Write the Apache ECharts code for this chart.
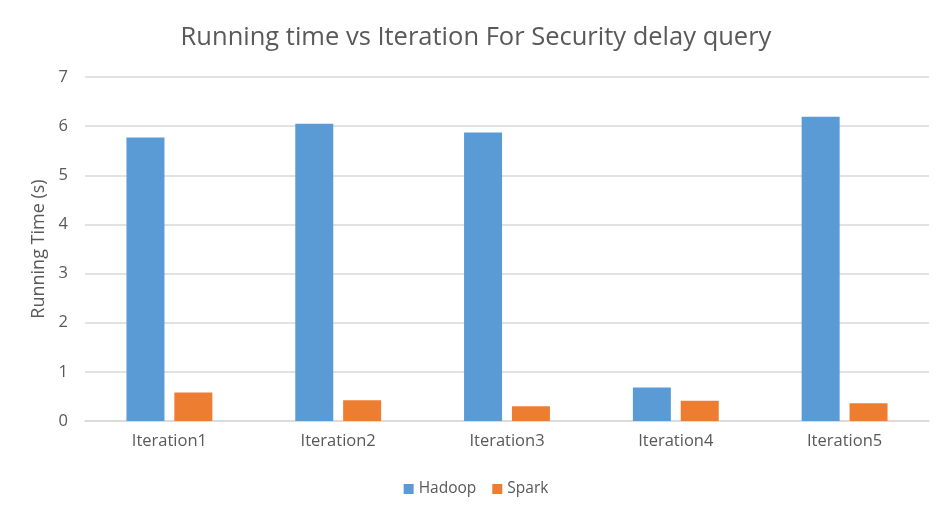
<!DOCTYPE html>
<html>
<head>
<meta charset="utf-8">
<script src="https://cdn.jsdelivr.net/npm/echarts@6/dist/echarts.min.js"></script>
<style>
  html, body { margin: 0; padding: 0; background: #fff; }
  #chart { width: 952px; height: 517px; }
</style>
</head>
<body>
<div id="chart"></div>
<script>
// data
var iterations = ["Iteration1", "Iteration2", "Iteration3", "Iteration4", "Iteration5"];
var hadoopTimes = [5.77, 6.05, 5.87, 0.68, 6.19];
var sparkTimes = [0.58, 0.42, 0.30, 0.41, 0.36];
var yTicks = [0, 1, 2, 3, 4, 5, 6, 7];

var textColor = "#595959";
var font = "Open Sans";

var chart = echarts.init(document.getElementById("chart"));
var option = {
  backgroundColor: "#fff",
  animation: false,
  title: {
    text: "Running time vs Iteration For Security delay query",
    left: "center",
    top: 20,
    textStyle: {
      color: textColor,
      fontFamily: font,
      fontWeight: "normal",
      fontSize: 25.5,
    },
  },
  legend: {
    data: ["Hadoop", "Spark"],
    bottom: 15,
    left: "center",
    icon: "rect",
    itemWidth: 10,
    itemHeight: 10,
    itemGap: 16,
    textStyle: {
      color: textColor,
      fontFamily: font,
      fontSize: 15.5,
    },
  },
  grid: {
    left: 85,
    right: 23,
    top: 77,
    bottom: 96,
  },
  xAxis: {
    type: "category",
    data: iterations,
    axisTick: { show: false },
    axisLine: { lineStyle: { color: "#D9D9D9", width: 1.5 } },
    axisLabel: {
      color: textColor,
      fontFamily: font,
      fontSize: 16.5,
      margin: 12,
    },
  },
  yAxis: {
    type: "value",
    min: yTicks[0],
    max: yTicks[yTicks.length - 1],
    interval: 1,
    name: "Running Time (s)",
    nameLocation: "middle",
    nameGap: 36,
    nameTextStyle: {
      color: textColor,
      fontFamily: font,
      fontSize: 18,
    },
    axisLine: { show: false },
    axisTick: { show: false },
    axisLabel: {
      color: textColor,
      fontFamily: font,
      fontSize: 16.5,
      margin: 17,
    },
    splitLine: { lineStyle: { color: "#D9D9D9", width: 1.5 } },
  },
  series: [
    {
      name: "Hadoop",
      type: "bar",
      data: hadoopTimes,
      barWidth: 38,
      barGap: "26%",
      itemStyle: { color: "#5B9BD5" },
    },
    {
      name: "Spark",
      type: "bar",
      data: sparkTimes,
      barWidth: 38,
      itemStyle: { color: "#ED7D31" },
    },
  ],
};
chart.setOption(option);
</script>
</body>
</html>
